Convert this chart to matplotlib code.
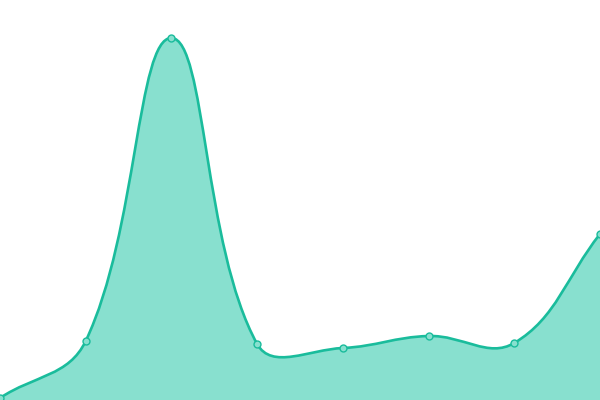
import matplotlib
matplotlib.use("Agg")
import matplotlib.pyplot as plt
import numpy as np
from matplotlib.path import Path
from matplotlib.patches import PathPatch

labels = ["A", "B", "C", "D", "E", "F", "G", "H"]
values = [2, 59, 362, 56, 52, 64, 57, 166]

line_color = "#1abc9c"
fill_color = "#88e0cf"
tension = 0.4

fig = plt.figure(figsize=(6, 4), dpi=100)
ax = fig.add_axes([0, 0, 1, 1])
ax.set_xlim(0, len(values) - 1)
ax.set_ylim(0, 400)
ax.axis("off")

# spline in pixel space (chart.js style)
pts = ax.transData.transform(np.column_stack([np.arange(len(values)), values]))
n = len(pts)
verts = [pts[0]]
codes = [Path.MOVETO]
ctrl = []
for i in range(n):
    prev = pts[max(i - 1, 0)]
    cur = pts[i]
    nxt = pts[min(i + 1, n - 1)]
    d01 = np.hypot(*(cur - prev))
    d12 = np.hypot(*(nxt - cur))
    tot = d01 + d12
    s01 = d01 / tot if tot else 0
    s12 = d12 / tot if tot else 0
    cp_prev = cur - tension * s01 * (nxt - prev)
    cp_next = cur + tension * s12 * (nxt - prev)
    ctrl.append((cp_prev, cp_next))
for i in range(1, n):
    verts += [ctrl[i - 1][1], ctrl[i][0], pts[i]]
    codes += [Path.CURVE4] * 3

inv = ax.transData.inverted()
curve = inv.transform(np.array(verts))
line_path = Path(curve, codes)
fill_verts = np.vstack([curve, [[n - 1, 0], [0, 0], curve[0]]])
fill_codes = codes + [Path.LINETO, Path.LINETO, Path.CLOSEPOLY]
ax.add_patch(PathPatch(Path(fill_verts, fill_codes), facecolor=fill_color, edgecolor="none"))
ax.add_patch(PathPatch(line_path, facecolor="none", edgecolor=line_color, lw=1.9, capstyle="round"))
ax.plot(np.arange(n), values, "o", ms=5, mfc=fill_color, mec=line_color, mew=1, clip_on=False)

fig.savefig("out.png", dpi=100)
